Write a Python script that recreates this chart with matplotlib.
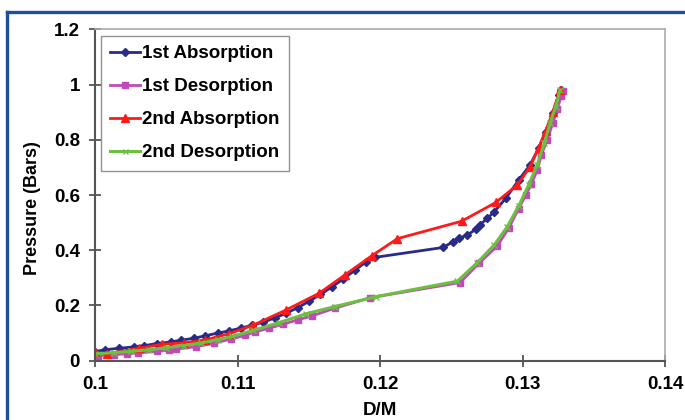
import matplotlib.pyplot as plt
from matplotlib.lines import Line2D

plt.rcParams['font.family'] = ['Liberation Sans', 'DejaVu Sans']

# 1st Absorption
abs1_x = [0.1, 0.1007, 0.1017, 0.1027, 0.1034, 0.1043, 0.1053, 0.106, 0.1069, 0.1077,
          0.1086, 0.1094, 0.1102, 0.111, 0.1118, 0.1126, 0.1134, 0.1142, 0.115, 0.1158,
          0.1166, 0.1174, 0.1182, 0.119, 0.1196, 0.1244, 0.1251, 0.1255, 0.1261, 0.1267,
          0.127, 0.1275, 0.128, 0.1288, 0.1297, 0.1305, 0.1311, 0.1316, 0.1321, 0.1325, 0.1327]
abs1_y = [0.033, 0.04, 0.045, 0.05, 0.054, 0.062, 0.068, 0.074, 0.081, 0.09,
          0.1, 0.108, 0.118, 0.128, 0.14, 0.155, 0.172, 0.192, 0.215, 0.24,
          0.267, 0.296, 0.327, 0.358, 0.374, 0.41, 0.431, 0.443, 0.455, 0.476,
          0.493, 0.515, 0.54, 0.588, 0.654, 0.709, 0.769, 0.829, 0.896, 0.962, 0.98]

# 1st Desorption
des1_x = [0.1002, 0.1013, 0.1022, 0.103, 0.1043, 0.1052, 0.1057, 0.1071, 0.1083, 0.1095,
          0.1105, 0.1112, 0.1122, 0.1132, 0.1142, 0.1152, 0.1168, 0.1193, 0.1256, 0.1269,
          0.1282, 0.129, 0.1297, 0.1302, 0.1306, 0.131, 0.1313, 0.1317, 0.1321, 0.1324,
          0.1327, 0.1328]
des1_y = [0.018, 0.022, 0.025, 0.028, 0.034, 0.038, 0.042, 0.051, 0.063, 0.078,
          0.092, 0.104, 0.118, 0.132, 0.148, 0.162, 0.19, 0.228, 0.283, 0.352,
          0.415, 0.48, 0.55, 0.6, 0.64, 0.69, 0.745, 0.8, 0.86, 0.91,
          0.96, 0.975]

# 2nd Absorption
abs2_x = [0.1, 0.1008, 0.1031, 0.1047, 0.1062, 0.1077, 0.1094, 0.1111, 0.1134, 0.1157,
          0.1175, 0.1194, 0.1212, 0.1257, 0.1281, 0.1296, 0.1305, 0.1311, 0.1316, 0.1321,
          0.1326]
abs2_y = [0.03, 0.025, 0.045, 0.06, 0.064, 0.075, 0.098, 0.129, 0.184, 0.244,
          0.31, 0.38, 0.442, 0.505, 0.573, 0.636, 0.702, 0.77, 0.833, 0.9,
          0.98]

# 2nd Desorption
des2_x = [0.1, 0.1013, 0.1025, 0.1038, 0.105, 0.1062, 0.1074, 0.1086, 0.1096, 0.1111,
          0.1129, 0.1148, 0.1168, 0.1197, 0.1254, 0.1268, 0.128, 0.1289, 0.1297, 0.1304,
          0.131, 0.1315, 0.1319, 0.1323, 0.1326]
des2_y = [0.025, 0.029, 0.034, 0.04, 0.047, 0.055, 0.064, 0.076, 0.088, 0.11,
          0.138, 0.17, 0.196, 0.232, 0.288, 0.355, 0.42, 0.485, 0.56, 0.636,
          0.709, 0.787, 0.86, 0.92, 0.98]

fig = plt.figure(figsize=(6.85, 4.2), dpi=100)
ax = fig.add_axes([0.139, 0.1412, 0.8325, 0.7890])

ax.plot(abs1_x, abs1_y, color='#2a2a88', lw=2, marker='D', ms=4, label='1st Absorption')
ax.plot(des1_x, des1_y, color='#c04ab8', lw=2, marker='s', ms=5, label='1st Desorption')
ax.plot(abs2_x, abs2_y, color='#ff1a1a', lw=2, marker='^', ms=6, label='2nd Absorption')
ax.plot(des2_x, des2_y, color='#6cc040', lw=2.2, marker='x', ms=4, mew=1, label='2nd Desorption')

ax.set_xlim(0.1, 0.14)
ax.set_ylim(0, 1.2)
ax.set_xticks([0.1, 0.11, 0.12, 0.13, 0.14])
ax.set_xticklabels(['0.1', '0.11', '0.12', '0.13', '0.14'])
ax.set_yticks([0, 0.2, 0.4, 0.6, 0.8, 1, 1.2])
ax.set_yticklabels(['0', '0.2', '0.4', '0.6', '0.8', '1', '1.2'])

for s in ['left', 'bottom']:
    ax.spines[s].set_color('#555555')
    ax.spines[s].set_linewidth(1.5)
for s in ['top', 'right']:
    ax.spines[s].set_color('#aaaaaa')
    ax.spines[s].set_linewidth(1.2)

ax.tick_params(direction='inout', length=8, width=1.3, color='#555555',
               labelsize=13.5, pad=7)
for t in ax.get_xticklabels() + ax.get_yticklabels():
    t.set_fontweight('bold')

ax.set_xlabel('D/M', fontsize=13.5, fontweight='bold')
ax.set_ylabel('Pressure (Bars)', fontsize=13, fontweight='bold')
ax.yaxis.set_label_coords(-0.095, 0.46)
ax.xaxis.set_label_coords(0.5, -0.125)

leg = ax.legend(loc='upper left', bbox_to_anchor=(0.010, 0.981), borderaxespad=0,
                prop={'weight': 'bold', 'size': 13.5}, frameon=True, fancybox=False,
                edgecolor='#777777', handlelength=1.6, handletextpad=0.1,
                labelspacing=0.85, borderpad=0.5, markerscale=0.9)
leg.get_frame().set_linewidth(1.0)

# blue frame around the figure (top and left edges)
fig.add_artist(Line2D([7 / 685, 7 / 685], [0, 1 - 12 / 420], transform=fig.transFigure,
                      color='#1f4f99', lw=2.4))
fig.add_artist(Line2D([7 / 685, 1], [1 - 12 / 420, 1 - 12 / 420], transform=fig.transFigure,
                      color='#1f4f99', lw=2.4))

fig.savefig('out.png', dpi=100)
